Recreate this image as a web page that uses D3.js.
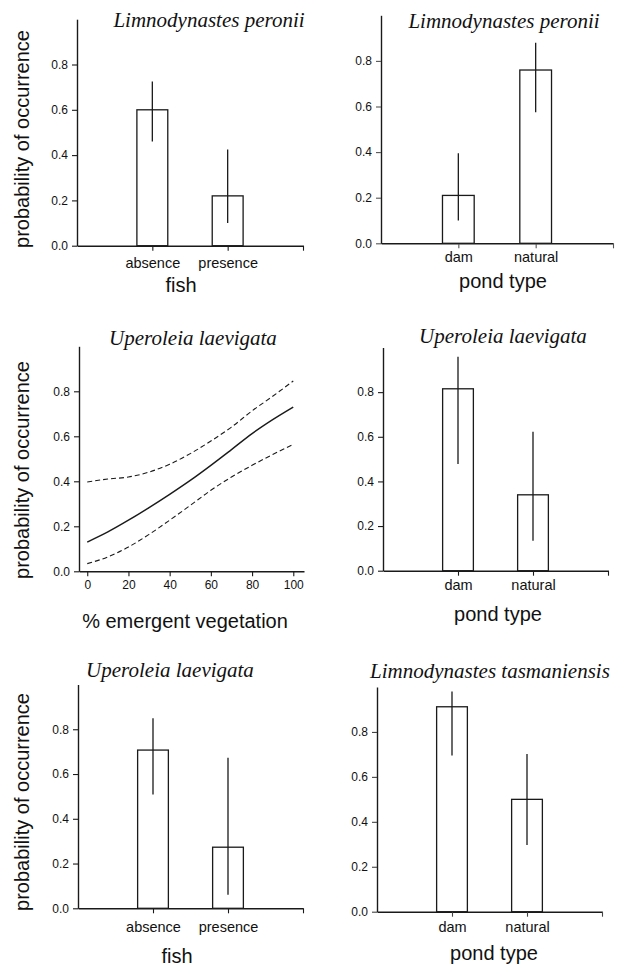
<!DOCTYPE html>
<html>
<head>
<meta charset="utf-8">
<script src="https://cdn.jsdelivr.net/npm/d3@7"></script>
<style>
  body { margin: 0; background: #fff; }
  svg { display: block; }
  .sans { font-family: "Liberation Sans", Arial, Helvetica, sans-serif; }
  .serif { font-family: "Liberation Serif", "Times New Roman", serif; font-style: italic; }
</style>
</head>
<body>
<svg id="fig" width="623" height="969"></svg>
<script>
// categories
const fishCats = ["absence", "presence"];
const pondCats = ["dam", "natural"];
const yTicks = [0, 0.2, 0.4, 0.6, 0.8];
const vegTicks = [0, 20, 40, 60, 80, 100];

// L. peronii vs fish
const peroniiFishP = [0.60, 0.22];
const peroniiFishLo = [0.46, 0.10];
const peroniiFishHi = [0.725, 0.425];

// L. peronii vs pond type
const peroniiPondP = [0.21, 0.76];
const peroniiPondLo = [0.10, 0.575];
const peroniiPondHi = [0.395, 0.88];

// U. laevigata vs % emergent vegetation (fit + confidence band)
const vegX = [0, 10, 20, 30, 40, 50, 60, 70, 80, 90, 100];
const vegFit = [0.130, 0.175, 0.227, 0.283, 0.342, 0.404, 0.471, 0.541, 0.612, 0.674, 0.730];
const vegUpper = [0.397, 0.410, 0.419, 0.441, 0.476, 0.523, 0.579, 0.641, 0.713, 0.778, 0.846];
const vegLower = [0.034, 0.064, 0.108, 0.164, 0.227, 0.293, 0.360, 0.419, 0.471, 0.519, 0.564];

// U. laevigata vs pond type
const uperPondP = [0.815, 0.34];
const uperPondLo = [0.478, 0.134];
const uperPondHi = [0.958, 0.622];

// U. laevigata vs fish
const uperFishP = [0.707, 0.273];
const uperFishLo = [0.509, 0.06];
const uperFishHi = [0.849, 0.673];

// L. tasmaniensis vs pond type
const tasPondP = [0.912, 0.50];
const tasPondLo = [0.695, 0.297];
const tasPondHi = [0.98, 0.702];

const svg = d3.select("#fig");
const ink = "#1a1a1a";

// panel frames (pixel placement of each small chart)
const layout = [
  { x0: 77,  x1: 303, y0: 245.7, y1: 19.2,  tx: 209, ty: 27,  lx: 181, ly: 292, tickPad: 7,  yTitleY: 139, tickInk: ink },
  { x0: 381, x1: 613, y0: 243.3, y1: 15.3,  tx: 504, ty: 28,  lx: 503, ly: 288, tickPad: 3,  yTitleY: null, tickInk: "#555" },
  { x0: 79,  x1: 304, y0: 571.3, y1: 346.3, tx: 193, ty: 345, lx: 185, ly: 628, tickPad: 4,  yTitleY: 470, tickInk: ink },
  { x0: 383, x1: 608, y0: 570.7, y1: 347.5, tx: 503, ty: 343, lx: 498, ly: 621, tickPad: 4,  yTitleY: null, tickInk: ink },
  { x0: 78,  x1: 303, y0: 908.3, y1: 684.5, tx: 170, ty: 677, lx: 177, ly: 963, tickPad: 8,  yTitleY: 802, tickInk: ink },
  { x0: 377, x1: 602, y0: 911.7, y1: 687,   tx: 490, ty: 678, lx: 494, ly: 960, tickPad: 5,  yTitleY: null, tickInk: "#444" }
];

const panels = [
  { kind: "bar", title: "Limnodynastes peronii", xTitle: "fish", cats: fishCats, p: peroniiFishP, lo: peroniiFishLo, hi: peroniiFishHi },
  { kind: "bar", title: "Limnodynastes peronii", xTitle: "pond type", cats: pondCats, p: peroniiPondP, lo: peroniiPondLo, hi: peroniiPondHi },
  { kind: "line", title: "Uperoleia laevigata", xTitle: "% emergent vegetation" },
  { kind: "bar", title: "Uperoleia laevigata", xTitle: "pond type", cats: pondCats, p: uperPondP, lo: uperPondLo, hi: uperPondHi },
  { kind: "bar", title: "Uperoleia laevigata", xTitle: "fish", cats: fishCats, p: uperFishP, lo: uperFishLo, hi: uperFishHi },
  { kind: "bar", title: "Limnodynastes tasmaniensis", xTitle: "pond type", cats: pondCats, p: tasPondP, lo: tasPondLo, hi: tasPondHi }
];

function styleAxis(g, tickInk) {
  g.selectAll("path.domain").attr("stroke", ink).attr("stroke-width", 1.4);
  g.selectAll(".tick line").attr("stroke", tickInk).attr("stroke-width", 1.1);
  g.selectAll(".tick text").attr("fill", "#111");
}

panels.forEach((pn, i) => {
  const f = layout[i];
  const g = svg.append("g");

  const y = d3.scaleLinear().domain([0, 1]).range([f.y0, f.y1]);
  let x;
  if (pn.kind === "bar") {
    x = d3.scaleLinear().domain([0, 3]).range([f.x0, f.x1]);
  } else {
    // 0 -> 87.3px, 100 -> 293.3px in the reference
    x = d3.scaleLinear().domain([-4, 105.2]).range([f.x0, f.x1]);
  }

  // y axis
  const ya = g.append("g")
    .attr("class", "sans")
    .attr("transform", `translate(${f.x0},0)`)
    .call(d3.axisLeft(y).tickValues(yTicks).tickFormat(d3.format(".1f")).tickSize(5).tickPadding(4).tickSizeOuter(0));
  ya.selectAll(".tick text").attr("font-size", 12);
  styleAxis(ya, f.tickInk);

  // x axis
  let xa;
  if (pn.kind === "bar") {
    xa = d3.axisBottom(x).tickValues([1, 2, 3])
      .tickFormat(d => pn.cats[d - 1] || "");
  } else {
    xa = d3.axisBottom(x).tickValues(vegTicks).tickFormat(d3.format("d"));
  }
  const xg = g.append("g")
    .attr("class", "sans")
    .attr("transform", `translate(0,${f.y0})`)
    .call(xa.tickSize(5).tickPadding(f.tickPad).tickSizeOuter(0));
  xg.selectAll(".tick text").attr("font-size", pn.kind === "bar" ? 14.5 : 12);
  styleAxis(xg, f.tickInk);

  if (pn.kind === "bar") {
    const bw = x(0.41) - x(0);
    pn.cats.forEach((c, k) => {
      g.append("rect")
        .attr("x", x(k + 1) - bw / 2)
        .attr("y", y(pn.p[k]))
        .attr("width", bw)
        .attr("height", y(0) - y(pn.p[k]))
        .attr("fill", "#fff")
        .attr("stroke", ink)
        .attr("stroke-width", 1.3);
      g.append("line")
        .attr("x1", x(k + 1)).attr("x2", x(k + 1))
        .attr("y1", y(pn.lo[k])).attr("y2", y(pn.hi[k]))
        .attr("stroke", ink)
        .attr("stroke-width", 1.3);
    });
  } else {
    const line = d3.line().x((d, k) => x(vegX[k])).y(d => y(d)).curve(d3.curveMonotoneX);
    g.append("path").attr("d", line(vegFit))
      .attr("fill", "none").attr("stroke", ink).attr("stroke-width", 1.4);
    [vegUpper, vegLower].forEach(s => {
      g.append("path").attr("d", line(s))
        .attr("fill", "none").attr("stroke", ink).attr("stroke-width", 1.1)
        .attr("stroke-dasharray", "5,3");
    });
  }

  // species title
  g.append("text")
    .attr("class", "serif")
    .attr("x", f.tx).attr("y", f.ty)
    .attr("text-anchor", "middle")
    .attr("font-size", 21)
    .attr("fill", "#111")
    .text(pn.title);

  // x title
  g.append("text")
    .attr("class", "sans")
    .attr("x", f.lx).attr("y", f.ly)
    .attr("text-anchor", "middle")
    .attr("font-size", 20)
    .attr("fill", "#111")
    .text(pn.xTitle);

  // y title on left column only
  if (f.yTitleY !== null) {
    g.append("text")
      .attr("class", "sans")
      .attr("transform", `translate(29,${f.yTitleY}) rotate(-90)`)
      .attr("text-anchor", "middle")
      .attr("font-size", 20)
      .attr("fill", "#111")
      .text("probability of occurrence");
  }
});
</script>
</body>
</html>
